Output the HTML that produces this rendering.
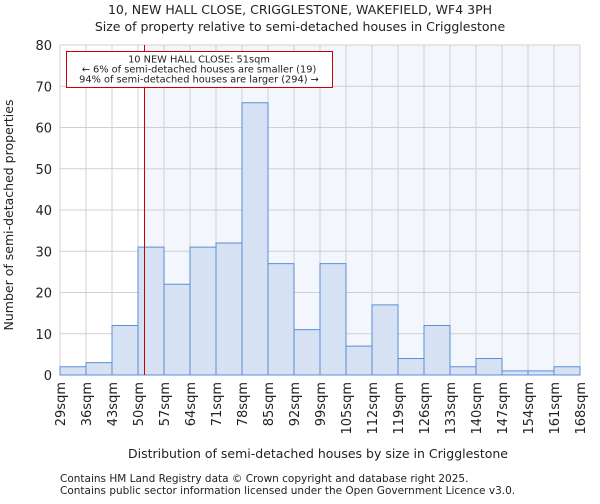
<!DOCTYPE html>
<html><head><meta charset="utf-8"><style>
body{margin:0;background:#fff;font-family:"DejaVu Sans","Liberation Sans",sans-serif;}
svg text{font-family:"DejaVu Sans","Liberation Sans",sans-serif;fill:#222;}
</style></head><body>
<svg id="c" width="600" height="500">
<text x="300" y="14" font-size="12.5" text-anchor="middle">10, NEW HALL CLOSE, CRIGGLESTONE, WAKEFIELD, WF4 3PH</text>
<text x="300" y="31" font-size="12.5" text-anchor="middle">Size of property relative to semi-detached houses in Crigglestone</text>
<text x="318" y="458" font-size="12.5" text-anchor="middle">Distribution of semi-detached houses by size in Crigglestone</text>
<text transform="translate(13,215) rotate(-90)" font-size="12.5" text-anchor="middle">Number of semi-detached properties</text>
<text x="60" y="482" font-size="10.5" fill="#444">Contains HM Land Registry data © Crown copyright and database right 2025.</text>
<text x="60" y="494" font-size="10.5" fill="#444">Contains public sector information licensed under the Open Government Licence v3.0.</text>
<g id="plot"></g>
</svg>
<script>
const binLabels=["29sqm","36sqm","43sqm","50sqm","57sqm","64sqm","71sqm","78sqm","85sqm","92sqm","99sqm","105sqm","112sqm","119sqm","126sqm","133sqm","140sqm","147sqm","154sqm","161sqm","168sqm"];
const counts=[2,3,12,31,22,31,32,66,27,11,27,7,17,4,12,2,4,1,1,2];
const yTicks=[0,10,20,30,40,50,60,70,80];
const markerPos=3.25;
const L=60,R=580,T=45,B=375,YMAX=80;
const NS="http://www.w3.org/2000/svg";
const g=document.getElementById('plot');
const bw=(R-L)/counts.length;
const xs=i=>L+i*bw;
const ys=v=>B-(v/YMAX)*(B-T);
function mk(t,a){const e=document.createElementNS(NS,t);for(const k in a)e.setAttribute(k,a[k]);g.appendChild(e);return e;}
let bg=mk('rect',{x:xs(markerPos),y:T,width:R-xs(markerPos),height:B-T,fill:'#f3f6fc'});


for(let i=0;i<=counts.length;i++){let l=mk('line',{x1:xs(i),x2:xs(i),y1:T,y2:B,stroke:'#d0d0d0'});

}
yTicks.forEach(v=>{let l=mk('line',{x1:L,x2:R,y1:ys(v),y2:ys(v),stroke:'#d0d0d0'});


let t=mk('text',{x:L-8,y:ys(v)+5,'font-size':13,'text-anchor':'end'});t.textContent=v;

});
counts.forEach((c,i)=>{let r=mk('rect',{x:xs(i),y:ys(c),width:bw,height:B-ys(c),fill:'#d6e1f3',stroke:'#5b8fd6','stroke-width':1});

});
binLabels.forEach((s,i)=>{let t=mk('text',{transform:`translate(${xs(i)+5},382) rotate(-90)`,'font-size':13,'text-anchor':'end'});t.textContent=s;

});
let ml=mk('line',{x1:xs(markerPos),x2:xs(markerPos),y1:T,y2:B,stroke:'#cc0000','stroke-width':1});


let box=mk('rect',{x:66.5,y:51.5,width:266,height:36,fill:'#fff',stroke:'#cc0000'});


["10 NEW HALL CLOSE: 51sqm","← 6% of semi-detached houses are smaller (19)","94% of semi-detached houses are larger (294) →"].forEach((s,i)=>{let t=mk('text',{x:199,y:62.5+i*10,'font-size':9.8,'text-anchor':'middle'});t.textContent=s;

});
</script>
</body></html>
